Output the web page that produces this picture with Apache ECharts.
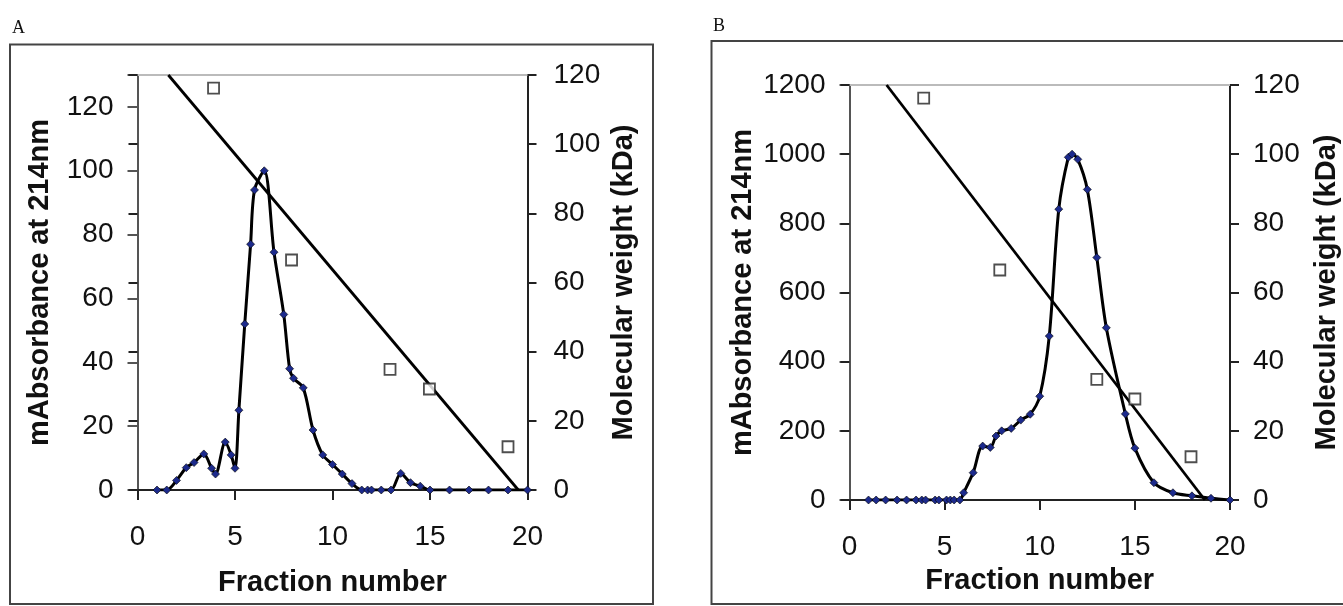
<!DOCTYPE html>
<html>
<head>
<meta charset="utf-8">
<script src="https://cdn.jsdelivr.net/npm/echarts@6/dist/echarts.min.js"></script>
<style>
  html, body { margin: 0; padding: 0; background: #fff; }
  #chart { width: 1343px; height: 606px; }
</style>
</head>
<body>
<div id="chart"></div>
<script>
// panel A: absorbance profile
const aFraction = [1, 1.5, 2, 2.5, 2.9, 3.4, 3.8, 4, 4.5, 4.8, 5, 5.2, 5.5, 5.8, 6, 6.5, 7, 7.5, 7.8, 8,
  8.5, 9, 9.5, 10, 10.5, 11, 11.5, 11.8, 12, 12.5, 13, 13.5, 14, 14.5, 15, 16, 17, 18, 19, 20];
const aAbsorbance = [0, 0, 3, 7, 8.6, 11.3, 6.8, 5, 15, 11, 6.8, 25, 52, 77, 94, 100, 74.5, 55, 38, 35,
  32, 18.8, 11, 8, 5, 2, 0, 0, 0, 0, 0, 5.2, 2.3, 1.2, 0, 0, 0, 0, 0, 0];
// panel A: molecular weight standards and fitted line
const aStdFraction = [3.9, 7.9, 12.95, 14.97, 19.0];
const aStdWeight = [116.2, 66.5, 34.9, 29.2, 12.5];
const aFitFraction = [1.58, 19.53];
const aFitWeight = [120, 0];

// panel B: absorbance profile
const bFraction = [1, 1.4, 1.9, 2.5, 3, 3.5, 3.8, 4, 4.5, 4.7, 5.1, 5.3, 5.5, 5.8, 6, 6.5, 7, 7.4, 7.7,
  8, 8.5, 9, 9.5, 10, 10.5, 11, 11.5, 11.7, 12, 12.5, 13, 13.5, 14.5, 15, 16, 17, 18, 19, 20];
const bAbsorbance = [0, 0, 0, 0, 0, 0, 0, 0, 0, 0, 0, 0, 0, 0, 21, 79, 156, 152, 185,
  200, 207, 231, 248, 300, 474, 841, 991, 1000, 985, 898, 701, 498, 249, 150, 50, 21, 12, 5, 0];
// panel B: molecular weight standards and fitted line
const bStdFraction = [3.9, 7.9, 13, 15, 17.95];
const bStdWeight = [116.2, 66.5, 34.9, 29.2, 12.5];
const bFitFraction = [1.95, 18.68];
const bFitWeight = [120, 0];

// tick labels
const aAbsTicks = [0, 20, 40, 60, 80, 100, 120];
const bAbsTicks = [0, 200, 400, 600, 800, 1000, 1200];
const weightTicks = [0, 20, 40, 60, 80, 100, 120];

const FONT = "'Liberation Sans', Arial, sans-serif";
const zip = (xs, ys) => xs.map((x, i) => [x, ys[i]]);

const chart = echarts.init(document.getElementById("chart"), null, { renderer: "canvas" });

function bottomAxis(grid, margin, nameGap) {
  return {
    type: "value", gridIndex: grid, position: "bottom",
    min: 0, max: 20, interval: 5,
    name: "Fraction number", nameLocation: "middle", nameGap: nameGap,
    nameTextStyle: { fontFamily: FONT, fontSize: 29, fontWeight: "bold", color: "#111" },
    axisLine: { onZero: false, lineStyle: { color: "#222", width: 2 } },
    axisTick: { length: 10, lineStyle: { color: "#222", width: 2 } },
    axisLabel: { margin: margin, fontFamily: FONT, fontSize: 28, color: "#111" },
    splitLine: { show: false },
  };
}

function topAxis(grid) {
  return {
    type: "value", gridIndex: grid, position: "top", min: 0, max: 20,
    axisLine: { onZero: false, lineStyle: { color: "#bbb", width: 2 } },
    axisTick: { show: false }, axisLabel: { show: false }, splitLine: { show: false },
  };
}

function leftAxis(grid, max, interval, ticks, nameGap) {
  return {
    type: "value", gridIndex: grid, position: "left",
    min: 0, max: max, interval: interval,
    name: "mAbsorbance at 214nm", nameLocation: "middle", nameGap: nameGap,
    nameTextStyle: { fontFamily: FONT, fontSize: 29, fontWeight: "bold", color: "#111" },
    axisLine: { show: true, onZero: false, lineStyle: { color: "#555", width: 2 } },
    axisTick: { length: 10, lineStyle: { color: "#555", width: 2 } },
    axisLabel: { margin: 24, fontFamily: FONT, fontSize: 28, color: "#111",
      formatter: (v) => (ticks.includes(v) ? String(v) : "") },
    splitLine: { show: false },
  };
}

function rightAxis(grid, margin, nameGap) {
  return {
    type: "value", gridIndex: grid, position: "right",
    min: 0, max: 120, interval: 20,
    name: "Molecular weight (kDa)", nameLocation: "middle", nameGap: nameGap,
    nameTextStyle: { fontFamily: FONT, fontSize: 29, fontWeight: "bold", color: "#111" },
    axisLine: { show: true, onZero: false, lineStyle: { color: "#222", width: 2 } },
    axisTick: { length: 9, lineStyle: { color: "#222", width: 2 } },
    axisLabel: { margin: margin, fontFamily: FONT, fontSize: 28, color: "#111",
      formatter: (v) => (weightTicks.includes(v) ? String(v) : "") },
    splitLine: { show: false },
  };
}

// second copy of the right axis, only for the inward half of the crossing ticks
function rightInnerTicks(grid) {
  return {
    type: "value", gridIndex: grid, position: "right",
    min: 0, max: 120, interval: 20,
    axisLine: { show: false },
    axisTick: { inside: true, length: 9, lineStyle: { color: "#222", width: 2 } },
    axisLabel: { show: false }, splitLine: { show: false },
  };
}

function profile(xi, yi, xs, ys) {
  return {
    type: "line", xAxisIndex: xi, yAxisIndex: yi, data: zip(xs, ys),
    smooth: 0.3, symbol: "diamond", symbolSize: 8,
    lineStyle: { color: "#000", width: 3 },
    itemStyle: { color: "#1c2a8c", borderColor: "#000", borderWidth: 0.6 },
    z: 3,
  };
}

function standards(xi, yi, xs, ys) {
  return {
    type: "scatter", xAxisIndex: xi, yAxisIndex: yi, data: zip(xs, ys),
    symbol: "rect", symbolSize: 11,
    itemStyle: { color: "#fff", borderColor: "#222", borderWidth: 1.8 },
    z: 4,
  };
}

function fit(xi, yi, xs, ys) {
  return {
    type: "line", xAxisIndex: xi, yAxisIndex: yi, data: zip(xs, ys),
    showSymbol: false, symbol: "none",
    lineStyle: { color: "#000", width: 2.8 },
    z: 2,
  };
}

const option = {
  animation: false,
  backgroundColor: "#fff",
  grid: [
    { left: 137.5, top: 75, width: 390, height: 415 },
    { left: 849.5, top: 85, width: 380.5, height: 415 },
  ],
  xAxis: [bottomAxis(0, 33, 78), topAxis(0), bottomAxis(1, 33, 66), topAxis(1)],
  yAxis: [
    leftAxis(0, 130, 20, aAbsTicks, 83),
    rightAxis(0, 26, 82),
    rightInnerTicks(0),
    leftAxis(1, 1200, 200, bAbsTicks, 92),
    rightAxis(1, 23, 82),
    rightInnerTicks(1),
  ],
  series: [
    fit(0, 1, aFitFraction, aFitWeight),
    profile(0, 0, aFraction, aAbsorbance),
    standards(0, 1, aStdFraction, aStdWeight),
    fit(2, 4, bFitFraction, bFitWeight),
    profile(2, 3, bFraction, bAbsorbance),
    standards(2, 4, bStdFraction, bStdWeight),
  ],
  graphic: [
    { type: "rect", silent: true, z: -1,
      shape: { x: 10, y: 44.5, width: 643, height: 559.5 },
      style: { fill: "none", stroke: "#444", lineWidth: 2 } },
    { type: "rect", silent: true, z: -1,
      shape: { x: 711.5, y: 41, width: 640, height: 563 },
      style: { fill: "none", stroke: "#444", lineWidth: 2 } },
    { type: "text", left: 12, top: 19,
      style: { text: "A", font: "18px 'Liberation Serif', 'Times New Roman', serif", fill: "#111" } },
    { type: "text", left: 713, top: 17,
      style: { text: "B", font: "18px 'Liberation Serif', 'Times New Roman', serif", fill: "#111" } },
  ],
};

chart.setOption(option);
</script>
</body>
</html>
